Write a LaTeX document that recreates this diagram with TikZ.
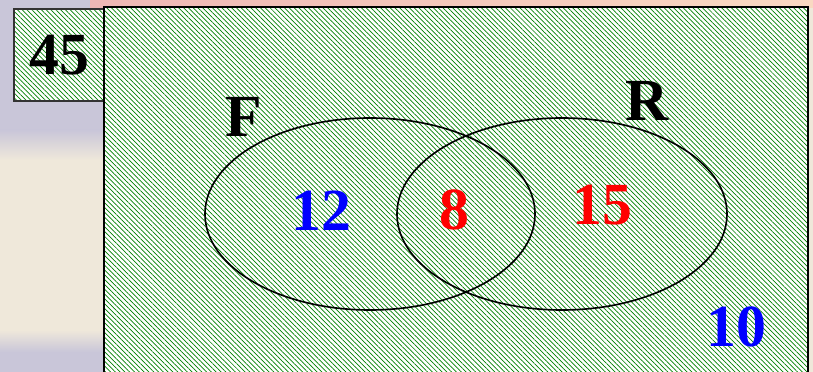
\documentclass[tikz,border=0pt]{standalone}
\usepackage{fontspec}
\setmainfont{Liberation Serif}
\usetikzlibrary{patterns.meta,shapes.geometric}
\definecolor{hatchgreen}{HTML}{008000}
\definecolor{bglilac}{HTML}{C9C6D9}
\definecolor{bgcream}{HTML}{EFE8DA}
\definecolor{bgpink}{HTML}{EEB7B5}
\definecolor{bgpeach}{HTML}{F9D9C2}
\definecolor{numblue}{HTML}{0000FF}
\definecolor{numred}{HTML}{FF0000}

\begin{document}
\begin{tikzpicture}[
    x=0.03cm, y=-0.03cm,
    hatched/.style={preaction={fill=white},
                    pattern={Lines[angle=-45,distance=2.9pt,line width=0.6pt]},
                    pattern color=hatchgreen},
    setlabel/.style={font=\fontsize{51}{60}\selectfont\bfseries, inner sep=0pt},
    venn/.style={draw, ellipse, line width=1.4pt, inner sep=0pt,
                 minimum width=9.9cm, minimum height=5.76cm},
]
\useasboundingbox (0,0) rectangle (813,372);
\begin{scope}
\clip (0,0) rectangle (813,372);

% Background
\fill[bgcream] (0,0) rectangle (813,372);
\fill[bglilac] (0,0) rectangle (104,130);
\shade[top color=bglilac, bottom color=bgcream] (0,130) rectangle (104,160);
\shade[top color=bgcream, bottom color=bglilac] (0,330) rectangle (104,352);
\fill[bglilac] (0,352) rectangle (104,372);
\shade[left color=bgpink, right color=bgpeach] (90,0) rectangle (813,8);

% Total box
\node[setlabel, draw=black!80, line width=1.3pt, hatched,
      minimum width=2.7cm, minimum height=2.76cm] (total) at (59,55) {45};

% Universe
\draw[hatched, line width=1.7pt] (104,7) rectangle (808,390);

% Sets
\node[venn] (setF) at (370,214) {};
\node[venn] (setR) at (562,214) {};

% Labels
\node[setlabel] (labF) at (244,117) {F};
\node[setlabel] (labR) at (647,101) {R};
\node[setlabel, text=numblue] (onlyF) at (321,211) {12};
\node[setlabel, text=numred] (both) at (454,210) {8};
\node[setlabel, text=numred] (onlyR) at (602,205) {15};
\node[setlabel, text=numblue] (neither) at (736,327) {10};
\end{scope}
\end{tikzpicture}
\end{document}
